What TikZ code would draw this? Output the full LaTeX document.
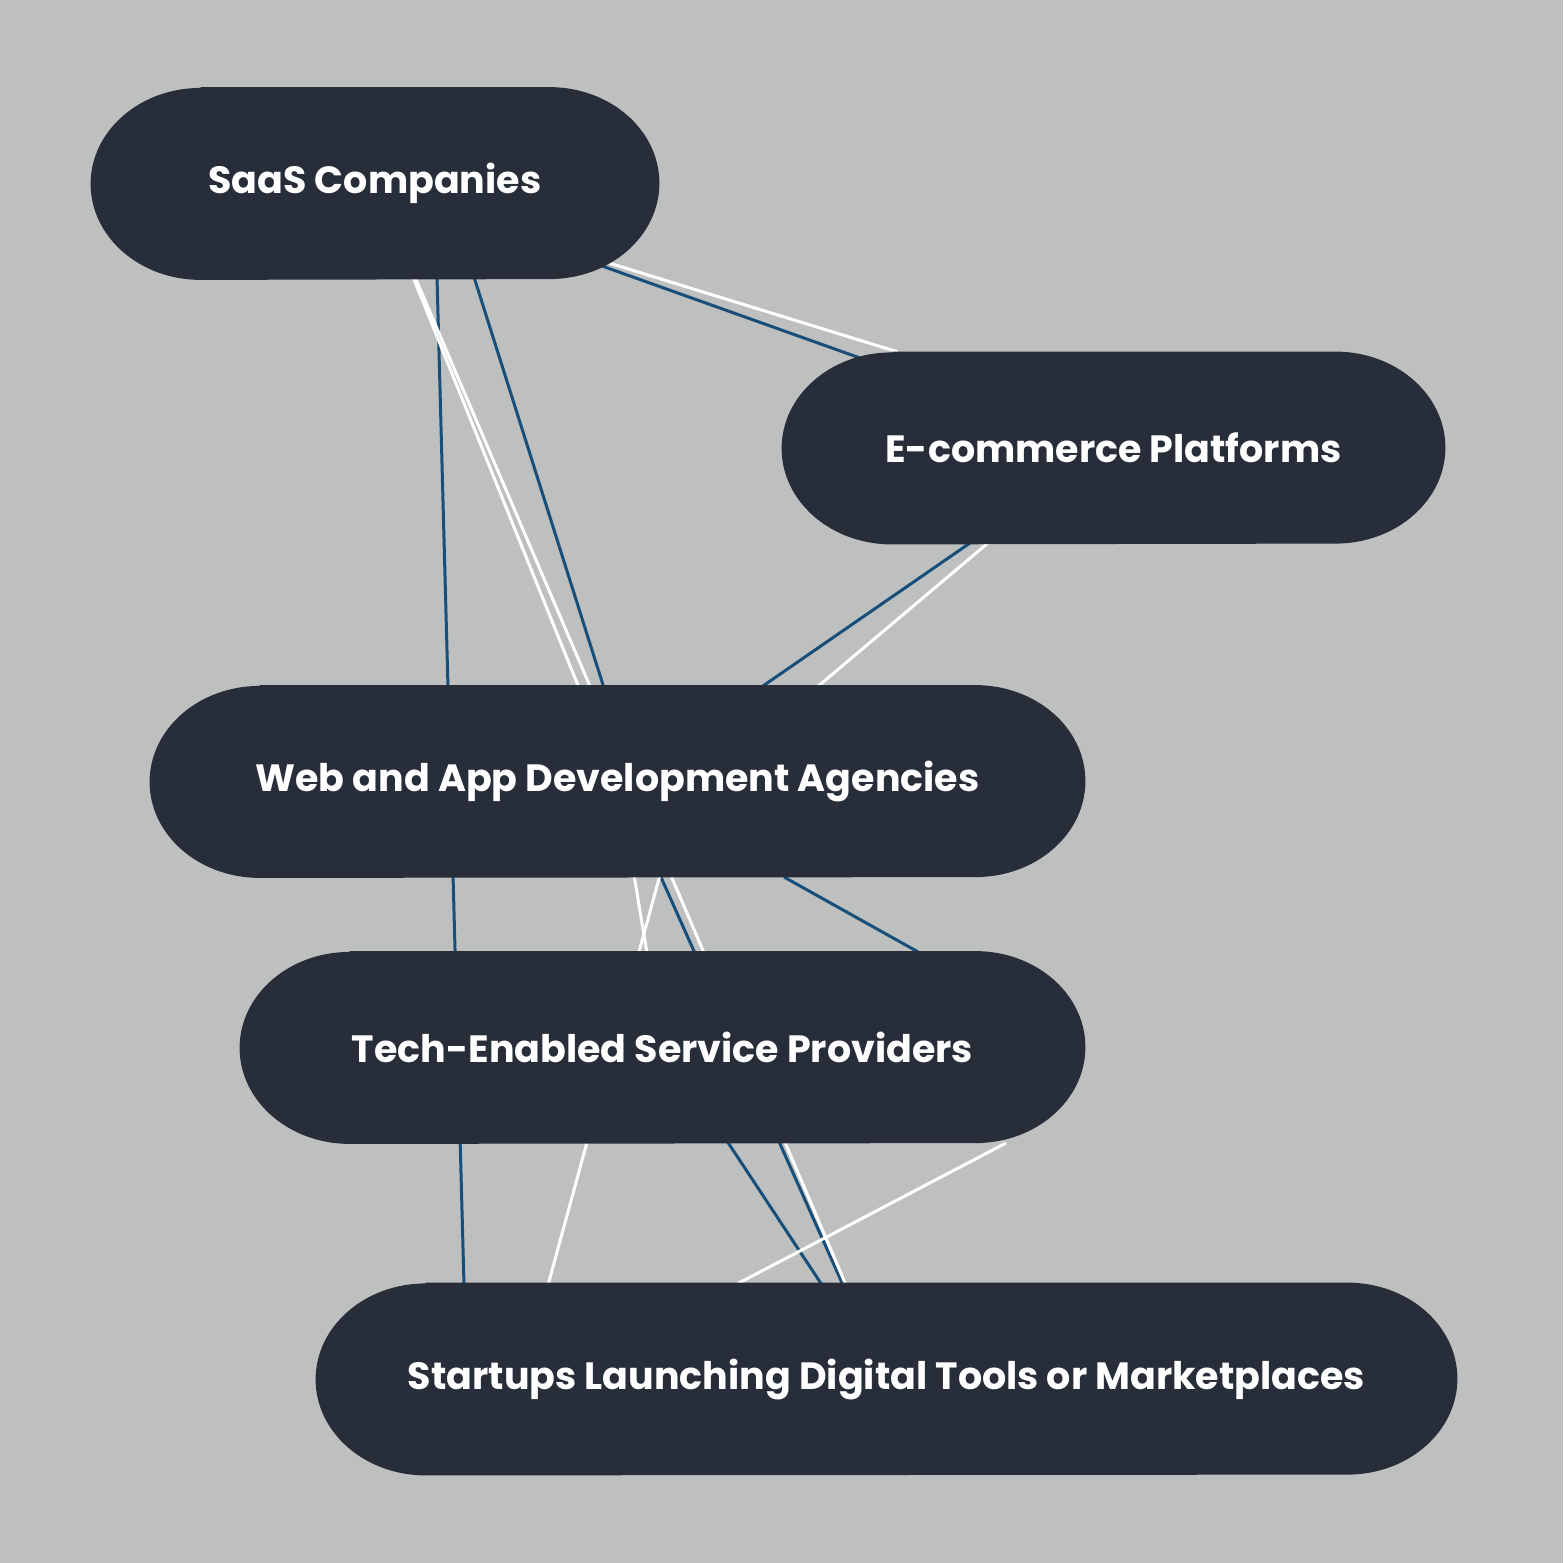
\documentclass[tikz,border=0pt]{standalone}
\usepackage{fontspec}
\setmainfont{Poppins}
\usetikzlibrary{calc}
\definecolor{bgc}{RGB}{190,192,191}
\definecolor{pillc}{RGB}{40,45,58}
\definecolor{bluec}{RGB}{24,79,122}
\pgfdeclarelayer{bg}
\pgfdeclarelayer{pills}
\pgfsetlayers{bg,pills,main}
\begin{document}
\begin{tikzpicture}[x=0.5pt,y=-0.5pt,
  pill/.style={rectangle, inner sep=0pt, minimum height=96pt, text=white,
    font=\bfseries\fontsize{19}{23}\selectfont},
  bline/.style={draw=bluec, line width=1.5pt},
  wline/.style={draw=white, line width=1.5pt}]
\useasboundingbox (0,0) rectangle (1563,1563);

\node[pill, minimum width=284pt]   (A) at (375,183.5)   {SaaS Companies};
\node[pill, minimum width=331.5pt] (B) at (1113.5,448)  {E-commerce Platforms};
\node[pill, minimum width=467.5pt] (C) at (617.5,781.5) {Web and App Development Agencies};
\node[pill, minimum width=422.5pt] (D) at (662.5,1047.5){Tech-Enabled Service Providers};
\node[pill, minimum width=570.5pt] (E) at (886.5,1379)  {Startups Launching Digital Tools or Marketplaces};

\begin{pgfonlayer}{pills}
\foreach \n in {A,B,C,D,E}{
  \fill[pillc] ($(\n.north west)+(110,0)$) -- ($(\n.north east)+(-110,0)$)
    arc[start angle=-90,end angle=90,x radius=110,y radius=96]
    -- ($(\n.south west)+(110,0)$)
    arc[start angle=90,end angle=270,x radius=110,y radius=96] -- cycle;
}
\end{pgfonlayer}

\begin{pgfonlayer}{bg}
\fill[bgc] (0,0) rectangle (1563,1563);
% blue connectors
\draw[bline] ($(A.center)+(227,82.5)$) -- ($(B.center)+(-253.5,-90)$);
\draw[bline] ($(A.center)+(62,93.5)$) -- ($(E.center)+(-422.5,-94)$);
\draw[bline] ($(A.center)+(99,93.5)$) -- ($(C.center)+(-13.5,-93.5)$);
\draw[bline] ($(B.center)+(-143.5,95)$) -- ($(C.center)+(142.5,-93.5)$);
\draw[bline] ($(C.center)+(42.5,93.5)$) -- ($(E.center)+(-43.5,-94)$);
\draw[bline] ($(C.center)+(166.5,95.5)$) -- ($(D.center)+(257.5,-94.5)$);
\draw[bline] ($(D.center)+(64.5,93.5)$) -- ($(E.center)+(-64.5,-94)$);
% white connectors
\draw[wline] ($(A.center)+(234,79.5)$) -- ($(B.center)+(-215.5,-96)$);
\draw[wline] ($(A.center)+(38,93.5)$) -- ($(C.center)+(-38.5,-93.5)$);
\draw[wline] ($(A.center)+(40,93.5)$) -- ($(E.center)+(-40.5,-94)$);
\draw[wline] ($(B.center)+(-125.5,95)$) -- ($(C.center)+(198.5,-93.5)$);
\draw[wline] ($(C.center)+(16.5,93.5)$) -- ($(D.center)+(-15.5,-94.5)$);
\draw[wline] ($(C.center)+(42.5,93.5)$) -- ($(E.center)+(-338.5,-94)$);
\draw[wline] ($(D.center)+(343.5,95.5)$) -- ($(E.center)+(-151.5,-94)$);
\end{pgfonlayer}
\end{tikzpicture}
\end{document}
